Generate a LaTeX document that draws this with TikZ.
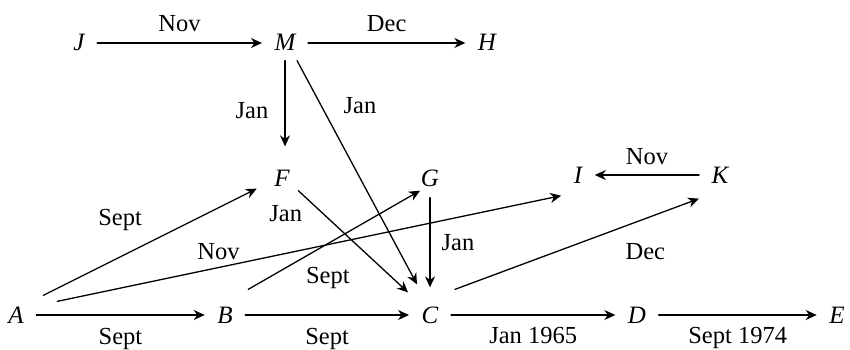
\documentclass[tikz,border=0pt]{standalone}
\usepackage{fontspec}
\setmainfont{Liberation Serif}
\usetikzlibrary{arrows.meta, positioning}

\begin{document}
\begin{tikzpicture}[x=1pt, y=-1pt, line width=1.3pt, line cap=round, line join=round,
  >={Stealth[length=11pt,width=10pt,inset=3.5pt]},
  vtx/.style={inner xsep=12pt, inner ysep=9pt, text height=16pt, text depth=0pt,
              font=\fontsize{25}{30}\selectfont\itshape},
  lbl/.style={inner sep=2pt, font=\fontsize{24.5}{29}\selectfont}]

  %% ════ 结点（字母）════
  \node[vtx] (J) at (79,43)   {J};
  \node[vtx] (M) at (285,43)  {M};
  \node[vtx] (H) at (487,43)  {H};
  \node[vtx] (F) at (282,178) {F};
  \node[vtx] (G) at (430,178) {G};
  \node[vtx] (I) at (578,175) {I};
  \node[vtx] (K) at (720,175) {K};
  \node[vtx] (A) at (16,315)  {A};
  \node[vtx] (B) at (225,315) {B};
  \node[vtx] (C) at (430,315) {C};
  \node[vtx] (D) at (637,315) {D};
  \node[vtx] (E) at (837,315) {E};

  %% ════ 水平箭头 ════
  \draw[->] (J) -- node[lbl, above=9pt] {Nov} (M);
  \draw[->] (M) -- node[lbl, above=9pt] {Dec} (H);
  \draw[->] (K) -- node[lbl, above=8pt] {Nov} (I);
  \draw[->] (A) -- node[lbl, below=11pt] {Sept} (B);
  \draw[->] (B) -- node[lbl, below=11pt] {Sept} (C);
  \draw[->] (C) -- node[lbl, below=10pt] {Jan 1965} (D);
  \draw[->] (D) -- node[lbl, below=10pt] {Sept 1974} (E);

  %% ════ 竖直 / 斜向箭头 ════
  % yshift 是画布方向：正值 = 往上
  \draw[->, shorten >=14pt] (M) -- node[lbl, left=14pt] {Jan} (M |- F.north);
  \draw[->] ([xshift=-11pt]M.south east) -- node[lbl, pos=0.2, right=20pt] {Jan} ([xshift=-13pt,yshift=13pt]C.north);
  \draw[->] ([xshift=-4pt,yshift=5pt]F.south east) -- node[lbl, pos=0.04, below left=8pt and -2pt] {Jan} ([xshift=-22pt,yshift=5pt]C.north);
  \draw[->] ([yshift=-2pt]G.south) -- node[lbl, right=9pt] {Jan} ([yshift=10pt]C.north);
  \draw[->] ([xshift=7pt,yshift=2pt]A.north east) -- node[lbl, pos=0.36, above=24pt] {Sept} ([xshift=-5pt,yshift=7pt]F.south west);
  \draw[->] ([xshift=21pt,yshift=-4pt]A.north east) -- node[lbl, pos=0.32, above=5pt] {Nov} ([yshift=-3pt]I.south west);
  \draw[->] ([xshift=3pt,yshift=8pt]B.north east) -- node[lbl, pos=0.42, below right=17pt and -17pt] {Sept} ([xshift=-10pt,yshift=5pt]G.south);
  \draw[->] ([xshift=4pt,yshift=8pt]C.north east) -- node[lbl, pos=0.78, below=22pt] {Dec} ([yshift=-6pt]K.south west);

  % 钉死画布
  \pgfresetboundingbox
  \path[use as bounding box] (0,0) rectangle (850,350);
\end{tikzpicture}
\end{document}
